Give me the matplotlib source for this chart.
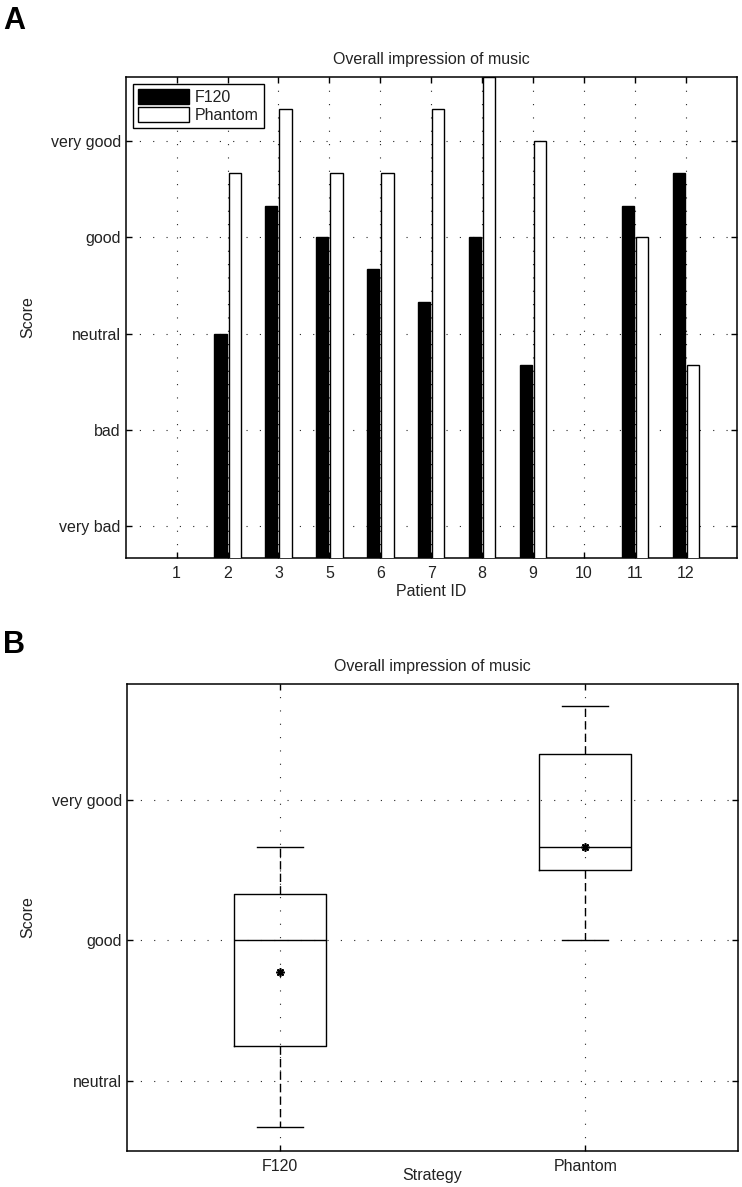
import matplotlib.pyplot as plt
import numpy as np

plt.rcParams['font.family'] = ['Liberation Sans', 'DejaVu Sans']
plt.rcParams['font.size'] = 11.5
plt.rcParams['text.color'] = '#222222'
plt.rcParams['axes.labelcolor'] = '#222222'
plt.rcParams['xtick.labelcolor'] = '#222222'
plt.rcParams['ytick.labelcolor'] = '#222222'

# Panel A data (scores per patient, nan = no rating)
patient_ids = ['1', '2', '3', '5', '6', '7', '8', '9', '10', '11', '12']
f120_scores = [np.nan, 3, 4.33, 4, 3.67, 3.33, 4, 2.67, np.nan, 4.33, 4.67]
phantom_scores = [np.nan, 4.67, 5.33, 4.67, 4.67, 5.33, 5.67, 5, np.nan, 4, 2.67]

score_levels = [1, 2, 3, 4, 5]
score_labels = ['very bad', 'bad', 'neutral', 'good', 'very good']
strategies = ['F120', 'Phantom']

GRID_LS = (0, (1, 11))


def matlab_prctile(vals, p):
    # same interpolation as matlab's prctile
    x = np.sort(vals)
    n = len(x)
    pos = n * p / 100.0 + 0.5
    if pos <= 1:
        return x[0]
    if pos >= n:
        return x[-1]
    i = int(np.floor(pos))
    frac = pos - i
    return x[i - 1] + frac * (x[i] - x[i - 1])


def box_stats(vals, label):
    v = np.array([a for a in vals if not np.isnan(a)])
    q1 = matlab_prctile(v, 25)
    q3 = matlab_prctile(v, 75)
    iqr = q3 - q1
    lo = v[v >= q1 - 1.5 * iqr].min()
    hi = v[v <= q3 + 1.5 * iqr].max()
    return dict(med=np.median(v), q1=q1, q3=q3, whislo=lo, whishi=hi,
                mean=v.mean(), fliers=[], label=label)


def style_axes(ax):
    for s in ax.spines.values():
        s.set_linewidth(1.1)
    ax.tick_params(direction='in', length=4, width=1.0, top=True, right=True,
                   labeltop=False, labelright=False)
    ax.tick_params(axis='x', pad=6)
    ax.tick_params(axis='y', pad=3.5)
    ax.grid(True, color='0.15', linestyle=GRID_LS, linewidth=0.8)
    ax.set_axisbelow(True)


fig = plt.figure(figsize=(7.42, 11.87), dpi=100)

# ---- Panel A: bar chart
ax1 = fig.add_axes([0.1694, 0.5302, 0.8235, 0.4052])
x = np.arange(1, len(patient_ids) + 1)
ax1.bar(x - 0.14, f120_scores, width=0.24, color='black', edgecolor='black',
        linewidth=1.0, label='F120', zorder=3)
ax1.bar(x + 0.14, phantom_scores, width=0.24, color='white', edgecolor='black',
        linewidth=1.0, label='Phantom', zorder=3)
ax1.set_xlim(0, 12)
ax1.set_ylim(0.67, 5.67)
ax1.set_xticks(x)
ax1.set_xticklabels(patient_ids)
ax1.set_yticks(score_levels)
ax1.set_yticklabels(score_labels)
style_axes(ax1)
ax1.set_title('Overall impression of music', fontsize=11.5, pad=9)
ax1.set_xlabel('Patient ID')
ax1.set_ylabel('Score')
ax1.xaxis.set_label_coords(0.5, -0.055)
ax1.yaxis.set_label_coords(-0.148, 0.5)
leg = ax1.legend(loc='upper left', fancybox=False, edgecolor='black',
                 framealpha=1, borderaxespad=0.45, handlelength=3.2,
                 handleheight=1.1, borderpad=0.3, labelspacing=0.15,
                 handletextpad=0.4, fontsize=11.5)
leg.get_frame().set_linewidth(1.0)

# ---- Panel B: box plot
ax2 = fig.add_axes([0.1712, 0.0306, 0.8234, 0.3932])
stats = [box_stats(f120_scores, strategies[0]),
         box_stats(phantom_scores, strategies[1])]
ax2.bxp(stats, positions=[1, 2], widths=0.3, capwidths=0.15,
        showmeans=True, showfliers=False,
        boxprops=dict(color='black', linewidth=1.0),
        medianprops=dict(color='black', linewidth=1.0),
        whiskerprops=dict(color='black', linewidth=1.0, linestyle=(0, (6, 3))),
        capprops=dict(color='black', linewidth=1.0),
        meanprops=dict(marker=(8, 2, 0), markeredgecolor='black',
                       markerfacecolor='black', markersize=6,
                       markeredgewidth=1.2))
ax2.set_xlim(0.5, 2.5)
ax2.set_ylim(2.5, 5.83)
ax2.set_yticks(score_levels[2:])
ax2.set_yticklabels(score_labels[2:])
style_axes(ax2)
ax2.set_title('Overall impression of music', fontsize=11.5, pad=9)
ax2.set_xlabel('Strategy')
ax2.set_ylabel('Score')
ax2.xaxis.set_label_coords(0.5, -0.037)
ax2.yaxis.set_label_coords(-0.15, 0.5)

fig.text(0.004, 1 - 6 / 1187, 'A', va='top', ha='left', fontsize=22,
         fontweight='bold', color='black')
fig.text(0.004, 1 - 630 / 1187, 'B', va='top', ha='left', fontsize=22,
         fontweight='bold', color='black')

fig.savefig('out.png', dpi=100)
